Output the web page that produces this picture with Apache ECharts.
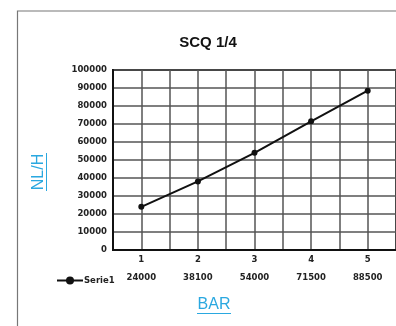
<!DOCTYPE html>
<html><head><meta charset="utf-8">
<script src="https://cdn.jsdelivr.net/npm/echarts@6/dist/echarts.min.js"></script>
<style>html,body{margin:0;padding:0;background:#fff}#c{width:396px;height:326px}</style>
</head><body><div id="c"></div>
<script>
var categories = ['1', '2', '3', '4', '5'];
var seriesName = 'Serie1';
var values = [24000, 38100, 54000, 71500, 88500];
var titleText = 'SCQ 1/4';
var xName = 'BAR';
var yName = 'NL/H';

var chart = echarts.init(document.getElementById('c'), null, {renderer: 'canvas'});
var blue = '#2aa8e0';
var tableFont = {fontFamily: 'DejaVu Sans', fontWeight: 'bold', fontSize: 8.5, color: '#222'};
chart.setOption({
  animation: false,
  grid: {left: 113, top: 70, right: 0, bottom: 76, show: true, borderColor: '#222', borderWidth: 2, containLabel: false},
  legend: {
    left: 51, top: 271, itemWidth: 26, itemHeight: 10, itemGap: 0,
    data: [seriesName],
    textStyle: {fontFamily: 'DejaVu Sans', fontWeight: 'bold', fontSize: 8.5, color: '#222', padding: [0,0,0,-4]}
  },
  xAxis: [{
    type: 'category', data: categories, boundaryGap: true,
    axisLine: {lineStyle: {color: '#111', width: 2}},
    axisTick: {show: false},
    splitLine: {show: false},
    axisLabel: {
      margin: 1, interval: 0,
      formatter: function (v, i) { return '{a|' + v + '}\n{b|' + values[i] + '}'; },
      rich: {a: Object.assign({lineHeight: 18}, tableFont), b: Object.assign({lineHeight: 18}, tableFont)}
    }
  }, {
    type: 'value', min: 0, max: 10, interval: 1, position: 'bottom',
    axisLine: {show: false}, axisTick: {show: false}, axisLabel: {show: false},
    splitLine: {show: true, lineStyle: {color: '#555', width: 1.5}}
  }],
  yAxis: {
    type: 'value', min: 0, max: 100000, interval: 10000,
    axisLine: {show: true, lineStyle: {color: '#111', width: 2}},
    axisTick: {show: false},
    axisLabel: Object.assign({margin: 6, formatter: function (v) { return String(v); }}, tableFont),
    splitLine: {lineStyle: {color: '#555', width: 1.5}}
  },
  series: [{
    name: seriesName, type: 'line', data: values, xAxisIndex: 0,
    symbol: 'circle', symbolSize: 6,
    lineStyle: {color: '#111', width: 2},
    itemStyle: {color: '#111'}
  }],
  graphic: [
    {type: 'polyline', shape: {points: [[17.5, 326], [17.5, 11], [396, 11]]}, style: {stroke: '#777', lineWidth: 1.2, fill: null}},
    {type: 'text', x: 208, y: 43, style: {text: titleText, font: 'bold 15px "Liberation Sans", Arial', fill: '#111', textAlign: 'center', textVerticalAlign: 'middle'}},
    {type: 'text', x: 214, y: 305, style: {text: xName, font: '16px "Liberation Sans", Arial', fill: blue, textAlign: 'center', textVerticalAlign: 'middle'}},
    {type: 'line', shape: {x1: 197, y1: 313.5, x2: 231, y2: 313.5}, style: {stroke: blue, lineWidth: 1}},
    {type: 'text', x: 39, y: 172, rotation: Math.PI / 2, style: {text: yName, font: '16px "Liberation Sans", Arial', fill: blue, textAlign: 'center', textVerticalAlign: 'middle'}},
    {type: 'line', shape: {x1: 46.5, y1: 153, x2: 46.5, y2: 191}, style: {stroke: blue, lineWidth: 1}}
  ]
});
</script></body></html>
